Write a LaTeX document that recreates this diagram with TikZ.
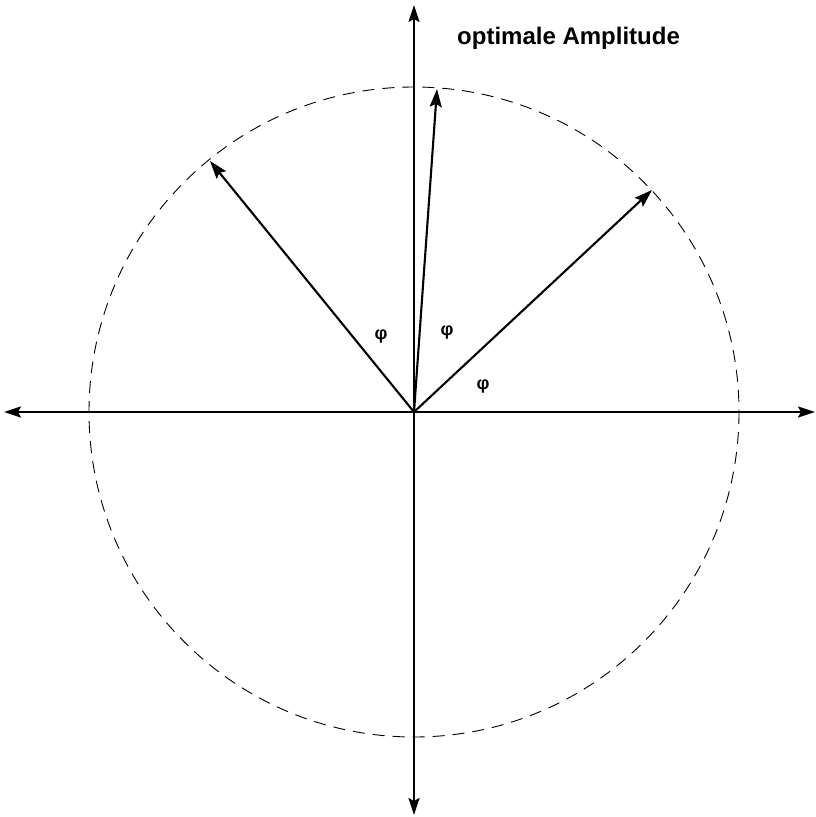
\documentclass[tikz,border=0pt]{standalone}
\usepackage{fontspec}
\setmainfont{Liberation Sans}
\usetikzlibrary{arrows.meta}
\begin{document}
\begin{tikzpicture}[x=1pt,y=-1pt,
  axis/.style={line width=1.9pt,-{Stealth[length=17pt,width=11pt,inset=3pt]}},
  vec/.style={line width=2.1pt,-{Stealth[length=18pt,width=12pt,inset=3pt]}},
  circ/.style={line width=0.9pt,dash pattern=on 12pt off 8pt},
  lab/.style={font=\bfseries\fontsize{18}{18}\selectfont,inner sep=0pt}]
\useasboundingbox (0,0) rectangle (815,817);
\coordinate (O) at (414,412);
\coordinate (L) at (4,412);
\coordinate (R) at (815,412);
\coordinate (T) at (414,5);
\coordinate (B) at (414,815);
\coordinate (v1) at (210,161);
\coordinate (v2) at (437,89);
\coordinate (v3) at (652,190);
\draw[circ] (O) circle (325);
\draw[axis] (O) -- (L);
\draw[axis] (O) -- (R);
\draw[axis] (O) -- (T);
\draw[axis] (O) -- (B);
\draw[line width=2.6pt] (O) -- ++(-40,0);
\draw[line width=2.6pt] (O) -- ++(0,44);
\draw[vec] (O) -- (v1);
\draw[vec] (O) -- (v2);
\draw[vec] (O) -- (v3);
\node[lab] (p1) at (381,337) {φ};
\node[lab] (p2) at (447,333) {φ};
\node[lab] (p3) at (483,387) {φ};
\node[font=\bfseries\fontsize{24}{24}\selectfont,inner sep=0pt,anchor=base west] (t) at (457,44) {optimale Amplitude};
\end{tikzpicture}
\end{document}
